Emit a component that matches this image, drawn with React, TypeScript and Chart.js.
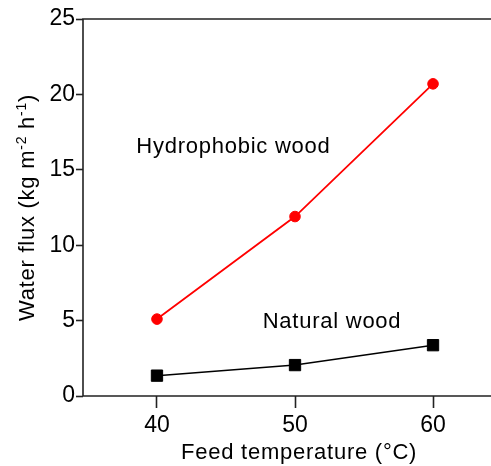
import React, { useEffect, useRef } from "react";
import { Chart, registerables } from "chart.js";

Chart.register(...registerables);

const TEMPERATURES = [40, 50, 60];
const HYDROPHOBIC_FLUX = [5.1, 11.9, 20.7];
const NATURAL_FLUX = [1.35, 2.05, 3.37];
const X_TICKS = [40, 50, 60];
const Y_TICKS = [0, 5, 10, 15, 20, 25];
const SERIES_NAMES = ["Hydrophobic wood", "Natural wood"];

const X_MIN = 34.64;
const X_MAX = 64.2;
const Y_MIN = 0;
const Y_MAX = 25;

const FONT = "'Liberation Sans', Arial, sans-serif";
const AXIS_COLOR = "#222";

// text annotations anchored in data units
const ANNOTATIONS = [
  { text: SERIES_NAMES[0], x: 38.5, y: 16.1 },
  { text: SERIES_NAMES[1], x: 47.66, y: 4.53 },
];

const overlayPlugin = {
  id: "overlay",
  afterDraw(chart: any) {
    const { ctx, chartArea } = chart;
    const xs = chart.scales.x;
    const ys = chart.scales.y;
    ctx.save();
    // frame: left, top, bottom
    ctx.strokeStyle = AXIS_COLOR;
    ctx.lineWidth = 1.6;
    ctx.beginPath();
    ctx.moveTo(chart.width, chartArea.top);
    ctx.lineTo(chartArea.left, chartArea.top);
    ctx.lineTo(chartArea.left, chartArea.bottom);
    ctx.lineTo(chart.width, chartArea.bottom);
    ctx.stroke();

    ctx.fillStyle = "#000";
    (ctx as any).letterSpacing = "0.75px";
    ctx.font = `22px ${FONT}`;
    ctx.textAlign = "left";
    ctx.textBaseline = "alphabetic";
    for (const a of ANNOTATIONS) {
      ctx.fillText(a.text, xs.getPixelForValue(a.x), ys.getPixelForValue(a.y));
    }

    // x title
    ctx.textAlign = "center";
    ctx.fillText("Feed temperature (\u00B0C)", xs.getPixelForValue(50.3), 459);

    // y title with superscripts
    const segs = [
      { t: "Water flux (kg m", sup: false },
      { t: "-2", sup: true },
      { t: " h", sup: false },
      { t: "-1", sup: true },
      { t: ")", sup: false },
    ];
    const mainFont = `22px ${FONT}`;
    const supFont = `14px ${FONT}`;
    let total = 0;
    const widths = segs.map((s) => {
      ctx.font = s.sup ? supFont : mainFont;
      const w = ctx.measureText(s.t).width;
      total += w;
      return w;
    });
    const cy = (chartArea.top + chartArea.bottom) / 2;
    ctx.translate(34, cy);
    ctx.rotate(-Math.PI / 2);
    ctx.textAlign = "left";
    let px = -total / 2;
    segs.forEach((s, i) => {
      ctx.font = s.sup ? supFont : mainFont;
      ctx.fillText(s.t, px, s.sup ? -8 : 0);
      px += widths[i];
    });
    ctx.restore();
  },
};

export default function App() {
  const canvasRef = useRef<HTMLCanvasElement | null>(null);

  useEffect(() => {
    document.body.style.margin = "0";
    const canvas = canvasRef.current;
    if (!canvas) return;
    const chart = new Chart(canvas, {
      type: "line",
      data: {
        datasets: [
          {
            label: SERIES_NAMES[0],
            data: TEMPERATURES.map((t, i) => ({ x: t, y: HYDROPHOBIC_FLUX[i] })),
            borderColor: "#ff0000",
            backgroundColor: "#ff0000",
            borderWidth: 1.8,
            pointStyle: "circle",
            pointRadius: 5.3,
            pointBorderWidth: 1,
          },
          {
            label: SERIES_NAMES[1],
            data: TEMPERATURES.map((t, i) => ({ x: t, y: NATURAL_FLUX[i] })),
            borderColor: "#000000",
            backgroundColor: "#000000",
            borderWidth: 1.5,
            pointStyle: "rect",
            pointRadius: 8,
            pointBorderWidth: 1,
          },
        ],
      },
      options: {
        responsive: false,
        animation: false,
        layout: { autoPadding: false, padding: { top: 19, right: 0, left: 0, bottom: 0 } },
        plugins: {
          legend: { display: false },
          tooltip: { enabled: false },
        },
        scales: {
          x: {
            type: "linear",
            min: X_MIN,
            max: X_MAX,
            afterBuildTicks: (s: any) => {
              s.ticks = X_TICKS.map((v) => ({ value: v }));
            },
            afterFit: (s: any) => {
              s.height = 70;
              s.paddingLeft = 0;
              s.paddingRight = 0;
            },
            grid: {
              display: true,
              drawOnChartArea: false,
              drawTicks: true,
              tickLength: 12,
              tickColor: AXIS_COLOR,
              tickWidth: 1.6,
            },
            border: { display: false },
            ticks: {
              color: "#000",
              padding: 4,
              maxRotation: 0,
              font: { family: FONT, size: 23 },
            },
          },
          y: {
            type: "linear",
            min: Y_MIN,
            max: Y_MAX,
            afterBuildTicks: (s: any) => {
              s.ticks = Y_TICKS.map((v) => ({ value: v }));
            },
            afterFit: (s: any) => {
              s.width = 83;
              s.paddingTop = 0;
              s.paddingBottom = 0;
            },
            grid: {
              display: true,
              drawOnChartArea: false,
              drawTicks: true,
              tickLength: 7,
              tickColor: AXIS_COLOR,
              tickWidth: 1.6,
            },
            border: { display: false },
            ticks: {
              color: "#000",
              padding: 1,
              font: { family: FONT, size: 23 },
            },
          },
        },
      },
      plugins: [overlayPlugin],
    });
    return () => chart.destroy();
  }, []);

  return (
    <div style={{ width: 491, height: 466 }}>
      <canvas ref={canvasRef} width={491} height={466} />
    </div>
  );
}
